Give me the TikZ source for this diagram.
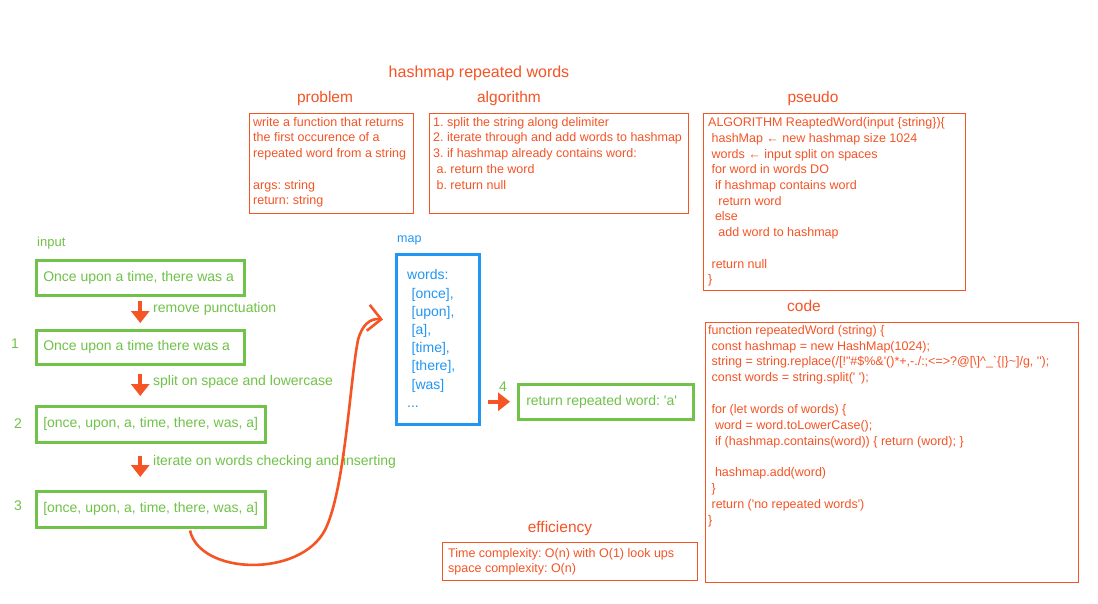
\documentclass[tikz,border=0pt]{standalone}
\usepackage{fontspec}
\setmainfont{Liberation Sans}[Ligatures=TeXOff]
\usetikzlibrary{arrows.meta,calc}
\definecolor{org}{RGB}{245,84,37}
\definecolor{grn}{RGB}{112,194,72}
\definecolor{blu}{RGB}{34,150,243}
\newcommand\ind{\hspace*{3.4pt}}
\newcommand\mind{\hspace*{4.5pt}}
\frenchspacing
\begin{document}
\begin{tikzpicture}[x=1pt,y=-1pt,
  body/.style={text=org, font=\fontsize{12.5}{15.7}\selectfont, align=left, anchor=north west, inner sep=0pt},
  head/.style={text=org, font=\fontsize{15.5}{18}\selectfont, inner sep=0pt},
  obox/.style={draw=org, line width=1.4pt, anchor=north west, inner sep=0pt},
  gbox/.style={draw=grn, line width=2.5pt, anchor=north west, inner xsep=7pt, inner ysep=0pt, text=grn, font=\fontsize{14}{17}\selectfont},
  gtext/.style={text=grn, font=\fontsize{14}{17}\selectfont, inner sep=0pt},
  arr/.style={draw=org, line width=3.8pt, -{Triangle[length=12pt,width=18pt]}},
  curv/.style={draw=org, line width=2.6pt, -{Straight Barb[length=13pt,width=26pt,line width=2.6pt]}}
]
\useasboundingbox (0,0) rectangle (1098,603);
\fill[white] (0,0) rectangle (1098,603);

% headers
\node[head, font=\fontsize{16}{19}\selectfont] (title) at (479,73) {hashmap repeated words};
\node[head] (hprob) at (325,98) {problem};
\node[head] (halg) at (509,98) {algorithm};
\node[head] (hpseudo) at (813,98) {pseudo};
\node[head] (hcode) at (804,306) {code};
\node[head] (heff) at (560,528) {efficiency};

% orange boxes
\node[obox, minimum width=164pt, minimum height=100pt] (prob) at (249,113) {};
\node[body] (probt) at (253,117) {write a function that returns\\the first occurence of a\\repeated word from a string\\\mbox{}\\args: string\\return: string};

\node[obox, minimum width=259pt, minimum height=100pt] (alg) at (429,113) {};
\node[body] (algt) at (433,117) {1. split the string along delimiter\\2. iterate through and add words to hashmap\\3. if hashmap already contains word:\\\ind a. return the word\\\ind b. return null};

\node[obox, minimum width=262pt, minimum height=177pt] (pseudo) at (703,113) {};
\node[body] (pseudot) at (708,117.5) {ALGORITHM ReaptedWord(input \{string\})\{\\
\ind hashMap ← new hashmap size 1024\\
\ind words ← input split on spaces\\
\ind for word in words DO\\
\ind\ind if hashmap contains word\\
\ind\ind\ind return word\\
\ind\ind else\\
\ind\ind\ind add word to hashmap\\
\mbox{}\\
\ind return null\\
\}};

\node[obox, minimum width=373pt, minimum height=260pt] (code) at (705,322) {};
\node[body, font=\fontsize{12.5}{15.85}\selectfont] (codet) at (708,325) {function repeatedWord (string) \{\\
\ind const hashmap = new HashMap(1024);\\
\ind string = string.replace(/[!"\#\$\%\&'()*+,-./:;<=>?@[\textbackslash]\textasciicircum\_`\{|\}\textasciitilde]/g, '');\\
\ind const words = string.split(' ');\\
\mbox{}\\
\ind for (let words of words) \{\\
\ind\ind word = word.toLowerCase();\\
\ind\ind if (hashmap.contains(word)) \{ return (word); \}\\
\mbox{}\\
\ind\ind hashmap.add(word)\\
\ind \}\\
\ind return ('no repeated words')\\
\}};

\node[obox, minimum width=255pt, minimum height=38pt] (eff) at (442,542) {};
\node[body, font=\fontsize{12.5}{15}\selectfont] (efft) at (448,548) {Time complexity: O(n) with O(1) look ups\\space complexity: O(n)};

% green flow
\node[gtext, anchor=west, font=\fontsize{13}{16}\selectfont] (input) at (37,243) {input};
\node[gbox, minimum height=35pt] (b1) at (35,259) {\makebox[194pt][l]{Once upon a time, there was a}};
\node[gbox, minimum height=34pt] (b2) at (35,329) {\makebox[194pt][l]{Once upon a time there was a}};
\node[gbox, minimum height=36pt] (b3) at (35,405) {\makebox[215pt][l]{[once, upon, a, time, there, was, a]}};
\node[gbox, minimum height=36pt] (b4) at (35,490) {\makebox[215pt][l]{[once, upon, a, time, there, was, a]}};

\node[gtext] (n1) at (15,344) {1};
\node[gtext] (n2) at (18,424) {2};
\node[gtext] (n3) at (18,506) {3};

\draw[arr] ($(b1.south)+(0,4)$) -- ($(b2.north)+(0,-6)$);
\draw[arr] ($(b2.south)+(0,8)$) -- ($(b3.north -| b2.south)+(0,-9)$);
\draw[arr] ($(b3.south -| b2.south)+(0,12)$) -- ($(b4.north -| b2.south)+(0,-13)$);

\node[gtext, anchor=west] (l1) at (153,309) {remove punctuation};
\node[gtext, anchor=west] (l2) at (153,382) {split on space and lowercase};
\node[gtext, anchor=west] (l3) at (153,462) {iterate on words checking and inserting};

% map
\node[text=blu, anchor=west, inner sep=0pt, font=\fontsize{12.5}{15}\selectfont] (maplbl) at (397,240) {map};
\node[draw=blu, line width=3pt, anchor=north west, minimum width=83pt, minimum height=170pt, inner sep=0pt] (map) at (395,253) {};
\node[text=blu, font=\fontsize{14}{18.2}\selectfont, align=left, anchor=north west, inner sep=0pt] (mapt) at (407,269.5) {words:\\\mind[once],\\\mind[upon],\\\mind[a],\\\mind[time],\\\mind[there],\\\mind[was]\\...};

% return
\node[gbox, inner xsep=8pt, minimum height=35pt] (ret) at (517,383) {\makebox[159pt][l]{return repeated word: 'a'}};
\node[gtext] (n4) at (503,387) {4};
\draw[arr] ($(map.east |- ret.west)+(7,0)$) -- ($(ret.west)+(-7,0)$);

% curve
\coordinate (cs) at ($(b4.south west)+(155,2)$);
\coordinate (ce) at ($(map.west)+(-12,-20)$);
\draw[curv] (cs) .. controls (200,575) and (300,578) .. (325,530) .. controls (345,490) and (350,380) .. (358,340) .. controls (362,325) and (370,318) .. (ce);
\end{tikzpicture}
\end{document}
